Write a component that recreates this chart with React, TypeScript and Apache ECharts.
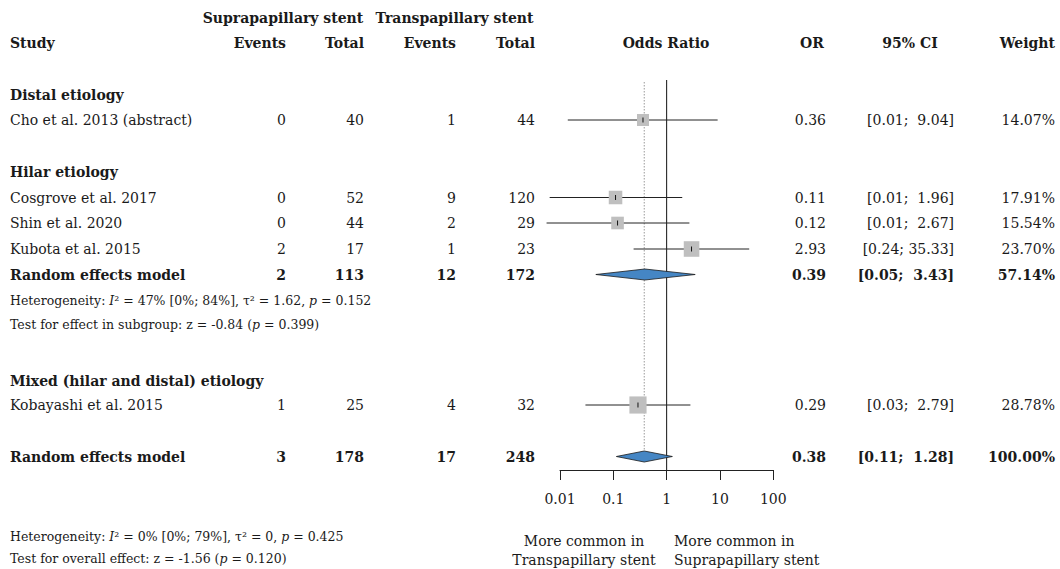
import React, { useEffect, useRef } from "react";
import * as echarts from "echarts";

// ---- individual studies ----
const studyNames = [
  "Cho et al. 2013 (abstract)",
  "Cosgrove et al. 2017",
  "Shin et al. 2020",
  "Kubota et al. 2015",
  "Kobayashi et al. 2015",
];
const supraEvents = [0, 0, 0, 2, 1];
const supraTotal = [40, 52, 44, 17, 25];
const transEvents = [1, 9, 2, 1, 4];
const transTotal = [44, 120, 29, 23, 32];
const oddsRatio = [0.36, 0.11, 0.12, 2.93, 0.29];
const ciLower = [0.014, 0.0064, 0.0056, 0.24, 0.03];
const ciUpper = [9.04, 1.96, 2.67, 35.33, 2.79];
const weights = [14.07, 17.91, 15.54, 23.7, 28.78];

// ---- pooled random-effects estimates: hilar subgroup, overall ----
const pooledLabel = "Random effects model";
const pooledSupraEvents = [2, 3];
const pooledSupraTotal = [113, 178];
const pooledTransEvents = [12, 17];
const pooledTransTotal = [172, 248];
const pooledOR = [0.39, 0.38];
const pooledLower = [0.047, 0.114];
const pooledUpper = [3.43, 1.28];
const pooledWeights = [57.14, 100];

const groupNames = ["Distal etiology", "Hilar etiology", "Mixed (hilar and distal) etiology"];
const axisTicks = [0.01, 0.1, 1, 10, 100];

// ---- layout (page pixels) ----
const W = 1060;
const H = 569;
const PLOT_TOP = 80;
const PLOT_BOTTOM = 470;
const HEADER_Y = [18, 42.5];
const groupRowY = [95, 172, 381];
const studyRowY = [120, 197.5, 223, 249, 405];
const pooledRowY = [274.5, 456.5];
const subgroupStatsY = [300, 324];
const overallStatsY = [536, 558];
const COL = { study: 10, e1: 286, n1: 364, e2: 456, n2: 535, plot: 666, or: 826, orHead: 812, ci: 954, ciHead: 910, w: 1055 };
const LABEL_LEFT_X = 584;
const LABEL_RIGHT_X = 674;
const LABEL_Y = [541, 560];

const FONT = "'DejaVu Serif', serif";
const INK = "#1a1a1a";
const FS = 14;
const FS_SMALL = 12.5;

const fmt2 = (v: number) => v.toFixed(2);
const fmtCI = (lo: number, hi: number) => `[${fmt2(lo)}; ${fmt2(hi).padStart(5, " ")}]`;
const fmtW = (v: number) => `${fmt2(v)}%`;

type Align = "left" | "right" | "center";
function txt(text: string, x: number, y: number, align: Align, bold = false, size = FS) {
  return {
    type: "text",
    x,
    y,
    silent: true,
    style: {
      text,
      fill: INK,
      fontFamily: FONT,
      fontSize: size,
      fontWeight: bold ? "bold" : "normal",
      align,
      verticalAlign: "middle",
      textAlign: align,
      textVerticalAlign: "middle",
    },
  };
}

// text with italic pieces marked as {i|...}
function richTxt(text: string, x: number, y: number) {
  const base = { fontFamily: FONT, fontSize: FS_SMALL, fill: INK, color: INK };
  return {
    type: "text",
    x,
    y,
    silent: true,
    style: {
      text,
      ...base,
      align: "left",
      verticalAlign: "middle",
      textAlign: "left",
      textVerticalAlign: "middle",
      rich: {
        n: { ...base },
        i: { ...base, fontStyle: "italic" },
      },
    },
  };
}

function buildGraphics() {
  const g: any[] = [];
  // column headers
  g.push(txt("Suprapapillary stent", (COL.e1 + COL.n1) / 2 - 42, HEADER_Y[0], "center", true));
  g.push(txt("Transpapillary stent", (COL.e2 + COL.n2) / 2 - 41, HEADER_Y[0], "center", true));
  g.push(txt("Study", COL.study, HEADER_Y[1], "left", true));
  g.push(txt("Events", COL.e1, HEADER_Y[1], "right", true));
  g.push(txt("Total", COL.n1, HEADER_Y[1], "right", true));
  g.push(txt("Events", COL.e2, HEADER_Y[1], "right", true));
  g.push(txt("Total", COL.n2, HEADER_Y[1], "right", true));
  g.push(txt("Odds Ratio", COL.plot, HEADER_Y[1], "center", true));
  g.push(txt("OR", COL.orHead, HEADER_Y[1], "center", true));
  g.push(txt("95% CI", COL.ciHead, HEADER_Y[1], "center", true));
  g.push(txt("Weight", COL.w, HEADER_Y[1], "right", true));

  groupNames.forEach((name, i) => g.push(txt(name, COL.study, groupRowY[i], "left", true)));

  studyNames.forEach((name, i) => {
    const y = studyRowY[i];
    g.push(txt(name, COL.study, y, "left"));
    g.push(txt(String(supraEvents[i]), COL.e1, y, "right"));
    g.push(txt(String(supraTotal[i]), COL.n1, y, "right"));
    g.push(txt(String(transEvents[i]), COL.e2, y, "right"));
    g.push(txt(String(transTotal[i]), COL.n2, y, "right"));
    g.push(txt(fmt2(oddsRatio[i]), COL.or, y, "right"));
    g.push(txt(fmtCI(ciLower[i], ciUpper[i]), COL.ci, y, "right"));
    g.push(txt(fmtW(weights[i]), COL.w, y, "right"));
  });

  pooledOR.forEach((or, i) => {
    const y = pooledRowY[i];
    g.push(txt(pooledLabel, COL.study, y, "left", true));
    g.push(txt(String(pooledSupraEvents[i]), COL.e1, y, "right", true));
    g.push(txt(String(pooledSupraTotal[i]), COL.n1, y, "right", true));
    g.push(txt(String(pooledTransEvents[i]), COL.e2, y, "right", true));
    g.push(txt(String(pooledTransTotal[i]), COL.n2, y, "right", true));
    g.push(txt(fmt2(or), COL.or, y, "right", true));
    g.push(txt(fmtCI(pooledLower[i], pooledUpper[i]), COL.ci, y, "right", true));
    g.push(txt(fmtW(pooledWeights[i]), COL.w, y, "right", true));
  });

  // heterogeneity and test statistics
  g.push(richTxt("{n|Heterogeneity: }{i|I}{n|² = 47% [0%; 84%], τ² = 1.62, }{i|p}{n| = 0.152}", COL.study, subgroupStatsY[0]));
  g.push(richTxt("{n|Test for effect in subgroup: z = -0.84 (}{i|p}{n| = 0.399)}", COL.study, subgroupStatsY[1]));
  g.push(richTxt("{n|Heterogeneity: }{i|I}{n|² = 0% [0%; 79%], τ² = 0, }{i|p}{n| = 0.425}", COL.study, overallStatsY[0]));
  g.push(richTxt("{n|Test for overall effect: z = -1.56 (}{i|p}{n| = 0.120)}", COL.study, overallStatsY[1]));

  // direction labels under the axis
  g.push(txt("More common in", LABEL_LEFT_X, LABEL_Y[0], "center"));
  g.push(txt("Transpapillary stent", LABEL_LEFT_X, LABEL_Y[1], "center"));
  g.push(txt("More common in", LABEL_RIGHT_X, LABEL_Y[0], "left"));
  g.push(txt("Suprapapillary stent", LABEL_RIGHT_X, LABEL_Y[1], "left"));
  return g;
}

// forest marks: [lower, estimate, upper, rowY, weight, kind]  kind 0 = study, 1 = pooled diamond
function buildMarks() {
  const rows: number[][] = [];
  studyNames.forEach((_, i) => rows.push([ciLower[i], oddsRatio[i], ciUpper[i], studyRowY[i], weights[i], 0]));
  pooledOR.forEach((or, i) => rows.push([pooledLower[i], or, pooledUpper[i], pooledRowY[i], pooledWeights[i], 1]));
  return rows;
}

function renderMark(_params: any, api: any) {
  const lo = api.value(0);
  const est = api.value(1);
  const hi = api.value(2);
  const y = api.value(3);
  const w = api.value(4);
  const kind = api.value(5);
  const pLo = api.coord([lo, y]);
  const pEst = api.coord([est, y]);
  const pHi = api.coord([hi, y]);
  if (kind === 1) {
    const hh = 5.5;
    return {
      type: "polygon",
      shape: {
        points: [
          [pLo[0], pLo[1]],
          [pEst[0], pEst[1] - hh],
          [pHi[0], pHi[1]],
          [pEst[0], pEst[1] + hh],
        ],
      },
      style: { fill: "#4586c4", stroke: "#1a1a1a", lineWidth: 0.8 },
    };
  }
  const s = 3.2 * Math.sqrt(w);
  return {
    type: "group",
    children: [
      { type: "line", shape: { x1: pLo[0], y1: pLo[1], x2: pHi[0], y2: pHi[1] }, style: { stroke: "#222", lineWidth: 1 } },
      { type: "rect", shape: { x: pEst[0] - s / 2, y: pEst[1] - s / 2, width: s, height: s }, style: { fill: "#bfbfbf" } },
      { type: "line", shape: { x1: pEst[0], y1: pEst[1] - 2.5, x2: pEst[0], y2: pEst[1] + 2.5 }, style: { stroke: "#111", lineWidth: 1 } },
    ],
  };
}

// reference lines: [x, yFrom, yTo, dotted]
function buildRefLines() {
  return [
    [1, PLOT_TOP, PLOT_BOTTOM, 0],
    [pooledOR[1], PLOT_TOP + 2, pooledRowY[1] - 5.5, 1],
  ];
}

function renderRef(_params: any, api: any) {
  const x = api.value(0);
  const a = api.coord([x, api.value(1)]);
  const b = api.coord([x, api.value(2)]);
  const dotted = api.value(3) === 1;
  return {
    type: "line",
    shape: { x1: a[0], y1: a[1], x2: b[0], y2: b[1] },
    style: dotted
      ? { stroke: "#9a9a9a", lineWidth: 1, lineDash: [1.5, 1.5] }
      : { stroke: "#111", lineWidth: 1 },
  };
}

export default function App() {
  const ref = useRef<HTMLDivElement>(null);
  useEffect(() => {
    if (!ref.current) return;
    const chart = echarts.init(ref.current, undefined, { renderer: "svg" });
    const axisMin = axisTicks[0];
    const axisMax = axisTicks[axisTicks.length - 1];
    chart.setOption({
      animation: false,
      backgroundColor: "#ffffff",
      grid: { left: 560, right: W - 773.3, top: PLOT_TOP, bottom: H - PLOT_BOTTOM },
      xAxis: {
        type: "log",
        logBase: 10,
        min: axisMin,
        max: axisMax,
        axisLine: { show: true, lineStyle: { color: "#222", width: 1 } },
        axisTick: { show: true, length: 10, inside: false, lineStyle: { color: "#222" } },
        splitLine: { show: false },
        axisLabel: {
          margin: 22,
          fontFamily: FONT,
          fontSize: FS,
          color: INK,
          formatter: (v: number) => String(parseFloat(Number(v).toPrecision(3))),
        },
      },
      yAxis: { type: "value", inverse: true, min: PLOT_TOP, max: PLOT_BOTTOM, show: false },
      graphic: buildGraphics(),
      series: [
        { type: "custom", z: 1, clip: false, renderItem: renderRef, data: buildRefLines(), silent: true },
        { type: "custom", z: 2, clip: false, renderItem: renderMark, data: buildMarks(), silent: true },
      ],
    });
    return () => chart.dispose();
  }, []);
  return (
    <div
      ref={ref}
      style={{ position: "fixed", left: 0, top: 0, width: W, height: H, background: "#fff" }}
    />
  );
}
